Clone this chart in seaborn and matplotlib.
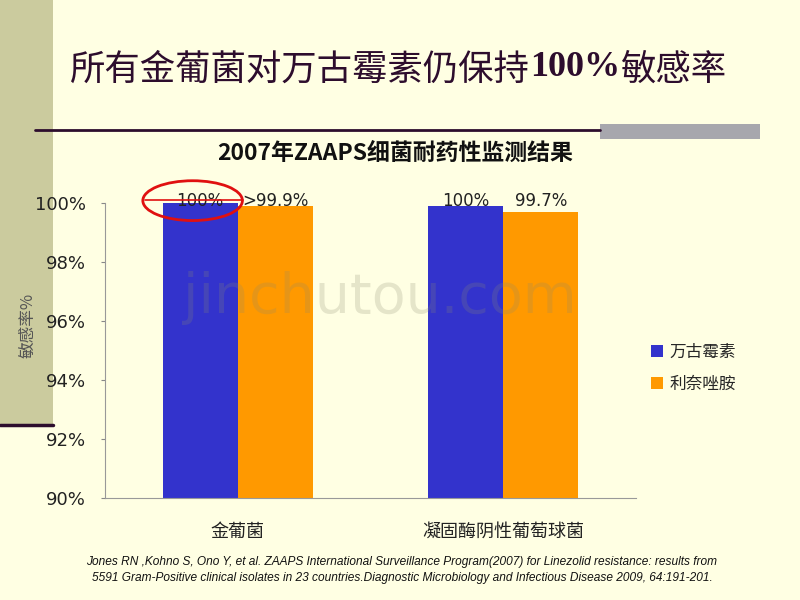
import matplotlib
matplotlib.use("Agg")
import matplotlib.pyplot as plt
import seaborn as sns
import pandas as pd
from matplotlib.patches import Ellipse, Rectangle
from matplotlib.lines import Line2D

categories = ["金葡菌", "凝固酶阴性葡萄球菌"]
drugs = ["万古霉素", "利奈唑胺"]
vancomycin = [100.0, 99.9]
linezolid = [99.9, 99.7]
bar_labels = [["100%", "100%"], [">99.9%", "99.7%"]]
yticks = [90, 92, 94, 96, 98, 100]
ytick_labels = ["90%", "92%", "94%", "96%", "98%", "100%"]

df = pd.DataFrame({
    "cat": categories * 2,
    "drug": [drugs[0]] * 2 + [drugs[1]] * 2,
    "val": vancomycin + linezolid,
})

sns.set_theme(style="white")
plt.rcParams['font.family'] = ['Noto Sans CJK SC', 'DejaVu Sans']
BG = "#FFFFE3"
fig = plt.figure(figsize=(8, 6), dpi=100, facecolor=BG)

# decorations (figure coordinates)
fig.patches.append(Rectangle((0, 1 - 425/600), 53/800, 425/600, transform=fig.transFigure,
                             facecolor="#CBCB9E", edgecolor="none", zorder=-5))
fig.lines.append(Line2D([0, 53/800], [1 - 425/600] * 2, transform=fig.transFigure,
                        color="#2D0D2D", lw=2.5, zorder=-4))
fig.lines.append(Line2D([35/800, 600/800], [1 - 130/600] * 2, transform=fig.transFigure,
                        color="#2D0D2D", lw=2, zorder=-4))
fig.patches.append(Rectangle((600/800, 1 - 139/600), 160/800, 15/600, transform=fig.transFigure,
                             facecolor="#A7A7AD", edgecolor="none", zorder=-5))

ax = fig.add_axes([105/800, 1 - 498/600, 531/800, 295/600])
ax.set_facecolor(BG)
ax.patch.set_alpha(0)
palette = {drugs[0]: "#3333CC", drugs[1]: "#FF9900"}
sns.barplot(data=df, x="cat", y="val", hue="drug", order=categories, hue_order=drugs,
            palette=palette, width=0.566, saturation=1, ax=ax, legend=True, zorder=2,
            linewidth=0, edgecolor="none")
ax.set_ylim(90, 100)
ax.set_xlim(-0.5, 1.5)
ax.set_yticks(yticks)
ax.set_yticklabels(ytick_labels, fontsize=13, color="#222222", family=["DejaVu Sans"])
ax.set_xticks([0, 1])
ax.set_xticklabels(categories, fontsize=13, color="#222222")
ax.tick_params(axis="x", length=0, pad=18)
ax.set_xticks([0.5, 1.5], minor=True)
ax.tick_params(axis="x", which="minor", direction="in", length=5, color="#888888", width=0.8)
ax.tick_params(axis="y", direction="out", length=3, color="#888888", width=0.8, left=True, pad=11)
for s in ["top", "right"]:
    ax.spines[s].set_visible(False)
for s in ["left", "bottom"]:
    ax.spines[s].set_color("#999999")
    ax.spines[s].set_linewidth(0.8)
ax.set_xlabel("")
ax.set_ylabel("")

# bar labels: all drawn at a common height just above the 100% line
label_y = 100.07
for container, labs in zip(ax.containers, bar_labels):
    for rect, lab in zip(container, labs):
        ax.text(rect.get_x() + rect.get_width() / 2, label_y, lab, ha="center", va="center",
                fontsize=12, color="#222222", family=["DejaVu Sans"], clip_on=False, zorder=4)

leg = ax.legend(loc="center left", bbox_to_anchor=(1.0, 0.44), frameon=False, fontsize=12,
                handlelength=0.7, handleheight=0.7, handletextpad=0.4, labelspacing=0.9)

# red ellipse annotation
ax.add_patch(Ellipse((-0.17, 100.08), 0.375, 1.35, fill=False, edgecolor="#E01010", lw=2,
                     clip_on=False, zorder=5))
ax.plot([-0.35, 0.02], [100.1, 100.1], color="#E01010", lw=1.2, clip_on=False, zorder=5)

# watermark
fig.text(380/800, 1 - 298/600, "jinchutou.com", fontsize=40, color="#8A8A70", alpha=0.22,
         ha="center", va="center", family=["DejaVu Sans"], zorder=10)

# titles
TY = 1 - 70/600
t1 = fig.text(70/800, TY, "所有金葡菌对万古霉素仍保持", fontsize=25.5, color="#2D0D2D",
              va="center", ha="left", weight="light")
fig.canvas.draw()
r = fig.canvas.get_renderer()
bb = t1.get_window_extent(r)
t2 = fig.text(bb.x1 / fig.bbox.width, TY + 2/600, "100%", fontsize=26, color="#2D0D2D",
              weight="bold", family=["Liberation Serif"], va="center", ha="left")
fig.canvas.draw()
bb2 = t2.get_window_extent(r)
fig.text(bb2.x1 / fig.bbox.width, TY, "敏感率", fontsize=25.5, color="#2D0D2D",
         va="center", ha="left", weight="light")

fig.text(395/800, 1 - 153/600, "2007年ZAAPS细菌耐药性监测结果", fontsize=16.5, weight="bold",
         color="#111111", ha="center", va="center")
fig.text(28/800, 1 - 325/600, "敏感率%", fontsize=12, color="#555555", rotation=90,
         ha="center", va="center")

cit_font = ["Liberation Sans", "DejaVu Sans"]
fig.text(402/800, 1 - 562/600,
         "Jones RN ,Kohno S, Ono Y, et al. ZAAPS International Surveillance Program(2007) for Linezolid resistance: results from",
         fontsize=8.6, style="italic", family=cit_font, color="#111111",
         ha="center", va="center")
fig.text(402/800, 1 - 578/600,
         "5591 Gram-Positive clinical isolates in 23 countries.Diagnostic Microbiology and Infectious Disease 2009, 64:191-201.",
         fontsize=8.6, style="italic", family=cit_font, color="#111111",
         ha="center", va="center")

fig.savefig("out.png", dpi=100, facecolor=BG)
